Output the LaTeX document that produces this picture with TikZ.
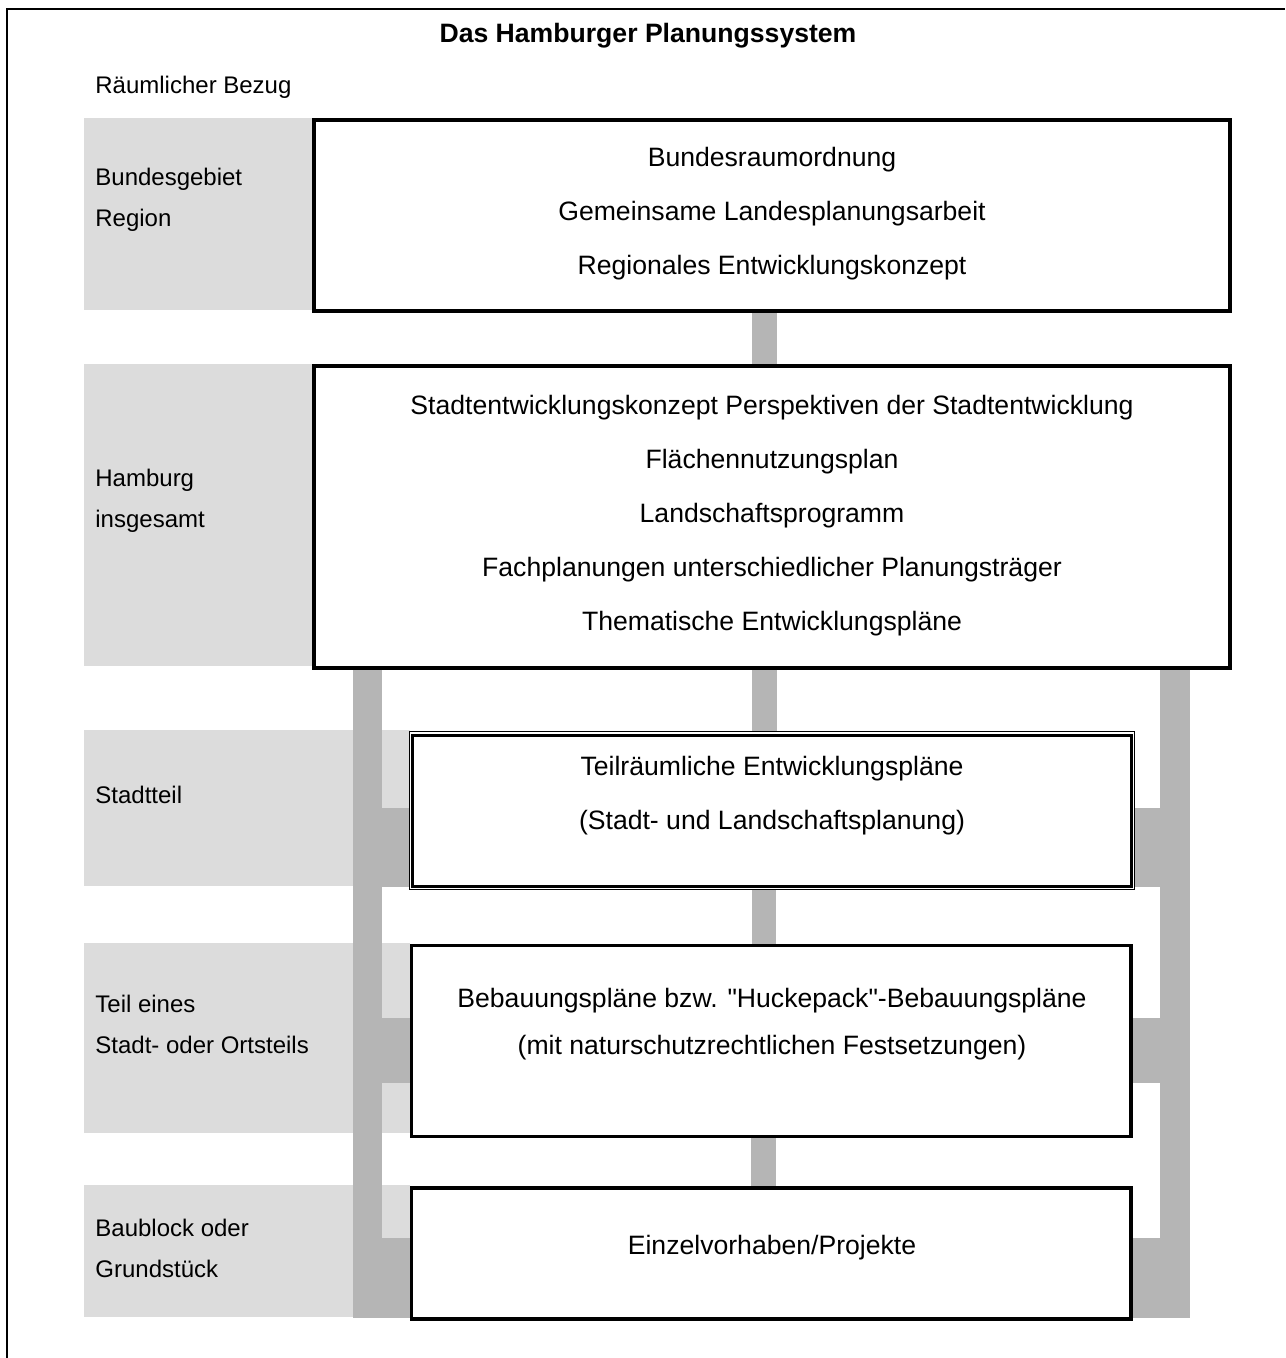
\documentclass[tikz,border=0pt]{standalone}
\usepackage{fontspec}
\setmainfont{Liberation Sans}
\newfontfamily\quotefont{Liberation Sans}[Ligatures=TeXOff]
\newcommand{\sq}{{\quotefont"}}
\definecolor{bandgray}{RGB}{220,220,220}
\definecolor{bargray}{RGB}{181,181,181}
\pgfdeclarelayer{bandlayer}
\pgfdeclarelayer{barlayer}
\pgfsetlayers{bandlayer,barlayer,main}
\begin{document}
\begin{tikzpicture}[x=0.5pt,y=-0.5pt,
  band/.style={fill=bandgray},
  bar/.style={fill=bargray},
  box/.style={draw=black, line width=2pt, fill=white, inner sep=0pt, outer sep=0pt},
  body/.style={font=\fontsize{13.3}{27}\selectfont, align=center, inner sep=0pt},
  lab/.style={font=\fontsize{12}{20.5}\selectfont, align=left, anchor=west, inner sep=0pt}]
\useasboundingbox (0,0) rectangle (1285,1358);
% outer frame (only top and left edges visible)
\draw[line width=0.8pt] (7,1358) -- (7,9) -- (1285,9);
% title
\node[font=\fontsize{13.3}{16}\selectfont\bfseries, inner sep=0pt] (title) at (648,36) {Das Hamburger Planungssystem};
\node[lab] (bezug) at (95,87) {Räumlicher Bezug};
% label bands
\begin{pgfonlayer}{bandlayer}
\fill[band] (84,118) rectangle (313,310);
\fill[band] (84,364) rectangle (313,666);
\fill[band] (84,730) rectangle (410,886);
\fill[band] (84,943) rectangle (410,1133);
\fill[band] (84,1185) rectangle (410,1317);
\end{pgfonlayer}
\node[lab] (l1) at (95,200) {Bundesgebiet\\Region};
\node[lab] (l2) at (95,501) {Hamburg\\insgesamt};
\node[lab] (l3) at (95,794.5) {Stadtteil};
\node[lab] (l4) at (95,1024) {Teil eines\\Stadt- oder Ortsteils};
\node[lab] (l5) at (95,1248) {Baublock oder\\Grundstück};
% boxes
\node[box, minimum width=458pt, minimum height=95.5pt] (b1) at (772,215.5) {};
\node[box, minimum width=458pt, minimum height=151pt] (b2) at (772,517) {};
\node[box, line width=0.5pt, minimum width=362.5pt, minimum height=79pt] (b3o) at (771.5,810) {};
\node[box, line width=1.5pt, minimum width=359.5pt, minimum height=75.5pt] (b3) at (771.5,810.5) {};
\node[box, line width=1.75pt, minimum width=359.75pt, minimum height=95.5pt] (b4) at (771.25,1041) {};
\node[box, line width=1.75pt, minimum width=359.75pt, minimum height=65.5pt] (b5) at (771.25,1253.5) {};
% box texts
\node[body] (t1) at (772,214) {Bundesraumordnung\\Gemeinsame Landesplanungsarbeit\\Regionales Entwicklungskonzept};
\node[body] (t2) at (772,515.5) {Stadtentwicklungskonzept Perspektiven der Stadtentwicklung\\Flächennutzungsplan\\Landschaftsprogramm\\Fachplanungen unterschiedlicher Planungsträger\\Thematische Entwicklungspläne};
\node[body] (t3) at (772,796) {Teilräumliche Entwicklungspläne\\(Stadt- und Landschaftsplanung)};
\node[body, font=\fontsize{13.3}{23.5}\selectfont] (t4) at (772,1024.5) {Bebauungspläne bzw. \sq Huckepack\sq-Bebauungspläne\\(mit naturschutzrechtlichen Festsetzungen)};
\node[body] (t5) at (772,1248) {Einzelvorhaben/Projekte};
% connectors
\coordinate (lbt) at (353,669);
\coordinate (lbb) at (382,1318);
\coordinate (rbt) at (1160,669);
\coordinate (rbb) at (1190,1318);
\begin{pgfonlayer}{barlayer}
% vertical links between boxes
\fill[bar] ([xshift=-10pt]b1.south) rectangle ([xshift=2.5pt]b2.north);
\fill[bar] ([xshift=-10pt]b2.south) rectangle ([xshift=2.5pt]b3o.north);
\fill[bar] ([xshift=-10pt]b3o.south) rectangle ([xshift=2.5pt]b4.north);
\fill[bar] ([xshift=-10pt]b4.south) rectangle ([xshift=2.5pt]b5.north);
% side bars
\fill[bar] (lbt) rectangle (lbb);
\fill[bar] (rbt) rectangle (rbb);
% stubs to the lower boxes
\fill[bar] (lbb |- 0,808) rectangle (b3.west |- 0,887);
\fill[bar] (b3.east |- 0,808) rectangle (rbt |- 0,887);
\fill[bar] (lbb |- 0,1018) rectangle (b4.west |- 0,1083);
\fill[bar] (b4.east |- 0,1018) rectangle (rbt |- 0,1083);
\fill[bar] (lbb |- 0,1238) rectangle (b5.west |- 0,1318);
\fill[bar] (b5.east |- 0,1238) rectangle (rbb);
\end{pgfonlayer}
\end{tikzpicture}
\end{document}
